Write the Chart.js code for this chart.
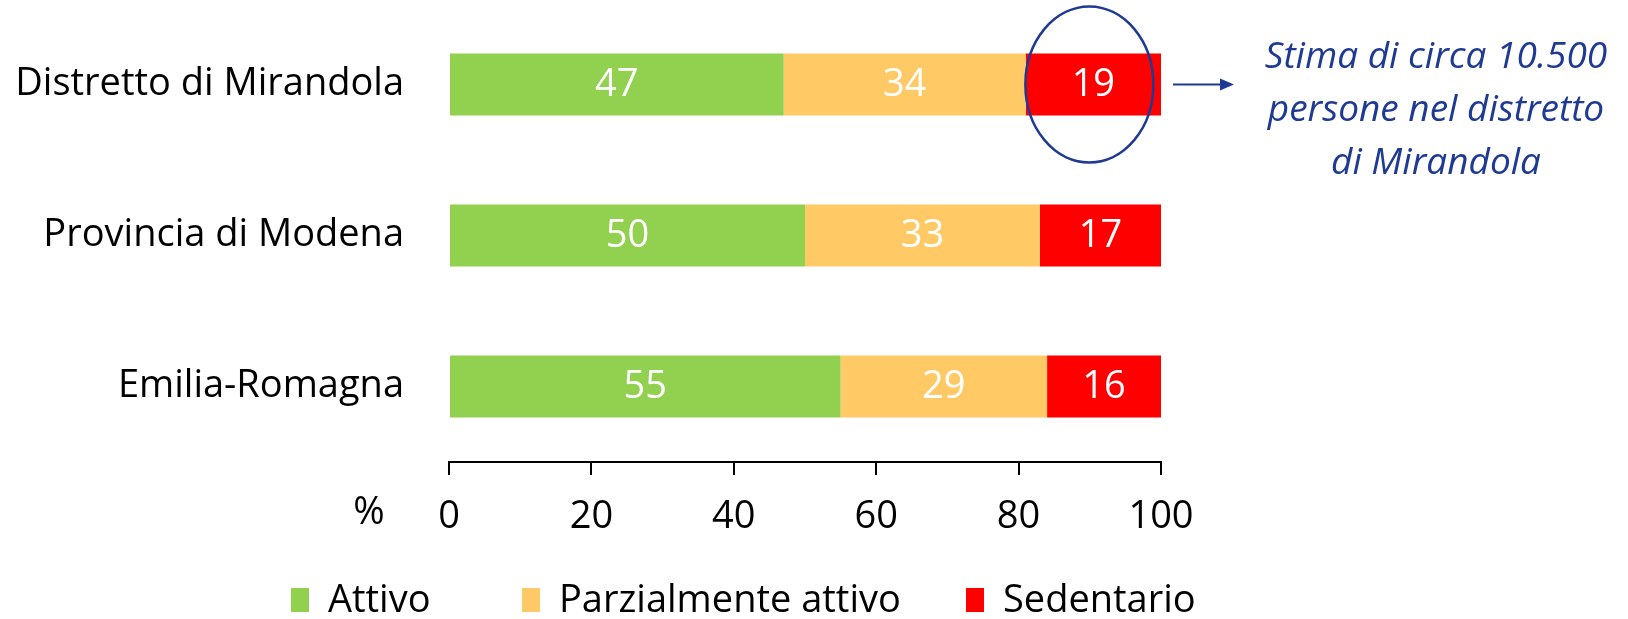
<!DOCTYPE html>
<html>
<head>
<meta charset="utf-8">
<script src="https://cdn.jsdelivr.net/npm/chart.js@4"></script>
<style>
  html, body { margin: 0; padding: 0; background: #fff; }
  #wrap { width: 1628px; height: 619px; }
</style>
</head>
<body>
<div id="wrap"><canvas id="grafico"></canvas></div>
<script>
// dati
const categorie = ["Distretto di Mirandola", "Provincia di Modena", "Emilia-Romagna"];
const attivo = [47, 50, 55];
const parziale = [34, 33, 29];
const sedentario = [19, 17, 16];
const etichetteSerie = ["Attivo", "Parzialmente attivo", "Sedentario"];
const tickX = [0, 20, 40, 60, 80, 100];
const nota = ["Stima di circa 10.500", "persone nel distretto", "di Mirandola"];

const FONT = "'Open Sans', sans-serif";
const FS = 38;
const colori = ['#92D050', '#FFCA66', '#FF0000'];
const posLegenda = [291, 522, 966];

// etichette dentro le barre
const etichetteBarre = {
  id: 'etichetteBarre',
  afterDatasetsDraw(chart) {
    const ctx = chart.ctx;
    ctx.save();
    ctx.font = FS + 'px ' + FONT;
    ctx.fillStyle = '#fff';
    ctx.textAlign = 'center';
    ctx.textBaseline = 'middle';
    chart.data.datasets.forEach(function(ds, i) {
      chart.getDatasetMeta(i).data.forEach(function(bar, j) {
        const c = bar.getCenterPoint();
        ctx.fillText(ds.data[j], c.x, c.y + 1);
      });
    });
    ctx.restore();
  }
};

// legenda, "%" e nota con ellisse
const extra = {
  id: 'extra',
  afterDraw(chart) {
    const ctx = chart.ctx;
    const x = chart.scales.x, y = chart.scales.y;
    ctx.save();
    ctx.font = FS + 'px ' + FONT;
    ctx.fillStyle = '#000';
    ctx.textBaseline = 'middle';
    ctx.textAlign = 'center';
    ctx.fillText('%', 369, 513);

    // legenda
    ctx.textAlign = 'left';
    const ly = 600;
    chart.data.datasets.forEach(function(ds, i) {
      const lx = posLegenda[i];
      ctx.fillStyle = ds.backgroundColor;
      ctx.fillRect(lx, ly - 12, 18, 24);
      ctx.fillStyle = '#000';
      ctx.fillText(ds.label, lx + 37, ly + 1);
    });

    // ellisse sul valore sedentario del distretto
    const blu = '#1F3A93';
    const cx = x.getPixelForValue(attivo[0] + parziale[0] + sedentario[0] / 2) - 4;
    const cy = y.getPixelForValue(0);
    ctx.strokeStyle = blu;
    ctx.lineWidth = 2.5;
    ctx.beginPath();
    ctx.ellipse(cx, cy, 64, 78, 0, 0, Math.PI * 2);
    ctx.stroke();

    // freccia
    ctx.lineWidth = 2;
    ctx.beginPath();
    ctx.moveTo(1173, cy);
    ctx.lineTo(1222, cy);
    ctx.stroke();
    ctx.fillStyle = blu;
    ctx.beginPath();
    ctx.moveTo(1234, cy);
    ctx.lineTo(1220, cy - 6);
    ctx.lineTo(1220, cy + 6);
    ctx.closePath();
    ctx.fill();

    // testo
    ctx.font = 'italic 37px ' + FONT;
    ctx.textAlign = 'center';
    nota.forEach(function(r, i) {
      ctx.fillText(r, 1436, 57 + i * 53);
    });
    ctx.restore();
  }
};

new Chart(document.getElementById('grafico'), {
  type: 'bar',
  data: {
    labels: categorie,
    datasets: [
      { label: etichetteSerie[0], data: attivo, backgroundColor: colori[0] },
      { label: etichetteSerie[1], data: parziale, backgroundColor: colori[1] },
      { label: etichetteSerie[2], data: sedentario, backgroundColor: colori[2] }
    ]
  },
  options: {
    indexAxis: 'y',
    responsive: true,
    maintainAspectRatio: false,
    animation: false,
    categoryPercentage: 1,
    barPercentage: 0.41,
    layout: { padding: { top: 9, right: 467, bottom: 77, left: 0 } },
    plugins: {
      legend: { display: false },
      tooltip: { enabled: false }
    },
    scales: {
      x: {
        stacked: true,
        min: 0,
        max: 100,
        afterBuildTicks: function(s) { s.ticks = tickX.map(function(v) { return { value: v }; }); },
        afterFit: function(s) { s.height = 80; s.paddingLeft = 0; s.paddingRight = 0; },
        grid: { display: true, drawOnChartArea: false, drawTicks: true, tickLength: 13, color: '#000', lineWidth: 2 },
        border: { display: true, color: '#000', width: 2 },
        ticks: { color: '#000', font: { family: FONT, size: FS }, padding: 19, maxRotation: 0 }
      },
      y: {
        stacked: true,
        afterFit: function(s) { s.width = 449; s.paddingTop = 0; s.paddingBottom = 0; },
        grid: { display: false },
        border: { display: false },
        ticks: { color: '#000', font: { family: FONT, size: FS }, padding: 37 }
      }
    }
  },
  plugins: [etichetteBarre, extra]
});
</script>
</body>
</html>
